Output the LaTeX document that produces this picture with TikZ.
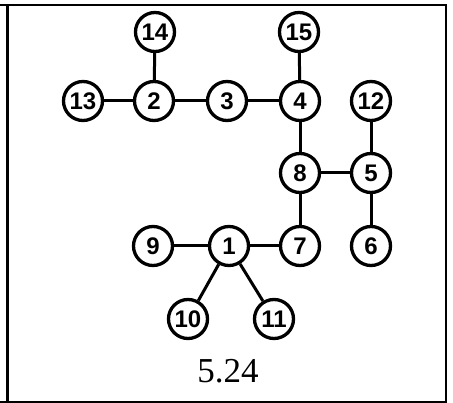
\documentclass[tikz,border=0pt]{standalone}
\usepackage{fontspec}
\setmainfont{Liberation Serif}
\newfontfamily\labfont{Liberation Sans}
\begin{document}
\begin{tikzpicture}[x=1pt,y=-1pt,
  vtx/.style={circle,draw,line width=3.3pt,minimum size=39pt,inner sep=0pt,
    font=\labfont\bfseries\fontsize{24}{25}\selectfont},
  edge/.style={line width=3pt},
  frame/.style={line width=2.2pt}]
\useasboundingbox (0,0) rectangle (453,403);
% frame
\coordinate (tl) at (0,5);
\coordinate (tr) at (447,5);
\coordinate (bl) at (0,402);
\coordinate (br) at (447,402);
\draw[frame] (tl) -- (tr);
\draw[frame] (bl) -- (br);
\draw[frame] (7.5,5) -- (7.5,402);
\draw[frame] (446,5) -- (446,402);
% nodes
\node[vtx] (n14) at (155,32) {14};
\node[vtx] (n15) at (299,32) {15};
\node[vtx] (n13) at (83,101) {13};
\node[vtx] (n2) at (154,101) {2};
\node[vtx] (n3) at (227,101) {3};
\node[vtx] (n4) at (300,101) {4};
\node[vtx] (n12) at (371,101) {12};
\node[vtx] (n8) at (300,173) {8};
\node[vtx] (n5) at (371,173) {5};
\node[vtx] (n9) at (153,246) {9};
\node[vtx] (n1) at (229,246) {1};
\node[vtx] (n7) at (300,246) {7};
\node[vtx] (n6) at (371,246) {6};
\node[vtx] (n10) at (188,319) {10};
\node[vtx] (n11) at (274,319) {11};
% edges
\draw[edge] (n14) -- (n2);
\draw[edge] (n13) -- (n2);
\draw[edge] (n2) -- (n3);
\draw[edge] (n3) -- (n4);
\draw[edge] (n15) -- (n4);
\draw[edge] (n4) -- (n8);
\draw[edge] (n12) -- (n5);
\draw[edge] (n8) -- (n5);
\draw[edge] (n5) -- (n6);
\draw[edge] (n8) -- (n7);
\draw[edge] (n9) -- (n1);
\draw[edge] (n1) -- (n7);
\draw[edge] (n1) -- (n10);
\draw[edge] (n1) -- (n11);
% caption
\node[anchor=base,inner sep=0pt,font=\fontsize{35}{40}\selectfont] (cap) at (228,383) {5.24};
\end{tikzpicture}
\end{document}
